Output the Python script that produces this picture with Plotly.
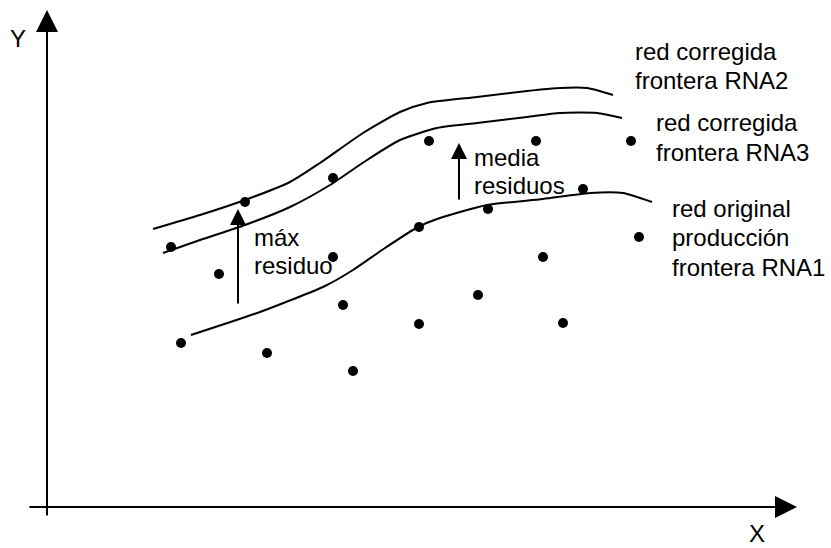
import plotly.graph_objects as go

# ---- data (pixel-like units; y grows downward) ----
pts_x = [171, 245, 333, 333, 219, 181, 267, 343, 353, 419, 429, 536, 631, 583, 488, 419, 639, 543, 478, 563]
pts_y = [247, 202, 178, 257, 274, 343, 353, 305, 371, 324, 141, 141, 141, 189, 209, 227, 237, 257, 295, 323]

rna2_x = [153, 200, 245, 290, 320, 363, 400, 427, 477, 527, 560, 587, 613]
rna2_y = [229, 215, 200, 182, 163, 133, 112, 103, 97, 91, 88, 88, 95]

rna3_x = [163, 200, 245, 290, 330, 367, 400, 437, 477, 527, 560, 597, 622]
rna3_y = [253, 240, 225, 207, 185, 160, 140, 128, 123, 117, 113, 113, 118]

rna1_x = [191, 260, 325, 353, 385, 418, 440, 487, 543, 590, 623, 652]
rna1_y = [335, 312, 286, 270, 248, 227, 218, 205, 199, 193, 193, 202]

# residual arrows: (x, y_tail, y_tip)
max_res = (238, 305, 209)
mean_res = (459, 201, 143)

# axes: origin and ends
x_axis = (28, 797, 507)   # x_start, x_end, y
y_axis = (47, 517, 10)    # x, y_start, y_end

# labels: (text, x_left, y_baseline)
labels = [
    ("red corregida", 633, 59), ("frontera RNA2", 633, 88),
    ("red corregida", 654, 130), ("frontera RNA3", 654, 160),
    ("red original", 670, 216), ("producción", 670, 245), ("frontera RNA1", 670, 275),
    ("media", 472, 165), ("residuos", 472, 193),
    ("máx", 252, 245), ("residuo", 252, 273),
]
axis_labels = [("Y", 18, 38, "middle"), ("X", 757, 548, "bottom")]

FONT = "Liberation Sans, Arial, sans-serif"
FS = 24

fig = go.Figure()
for cx, cy in [(rna2_x, rna2_y), (rna3_x, rna3_y), (rna1_x, rna1_y)]:
    fig.add_trace(go.Scatter(x=cx, y=cy, mode="lines",
                             line=dict(color="black", width=2, shape="spline", smoothing=0.6),
                             hoverinfo="skip", showlegend=False))
fig.add_trace(go.Scatter(x=pts_x, y=pts_y, mode="markers",
                         marker=dict(color="black", size=10),
                         hoverinfo="skip", showlegend=False))

ann = []
# axes arrows
ann.append(dict(x=x_axis[1], y=x_axis[2], ax=x_axis[0], ay=x_axis[2], xref="x", yref="y",
                axref="x", ayref="y", text="", showarrow=True, arrowhead=2, arrowsize=2.2,
                arrowwidth=2, arrowcolor="black", standoff=0))
ann.append(dict(x=y_axis[0], y=y_axis[2], ax=y_axis[0], ay=y_axis[1], xref="x", yref="y",
                axref="x", ayref="y", text="", showarrow=True, arrowhead=2, arrowsize=2.2,
                arrowwidth=2, arrowcolor="black", standoff=0))
for ax_x, yt, yp in [max_res, mean_res]:
    ann.append(dict(x=ax_x, y=yp, ax=ax_x, ay=yt, xref="x", yref="y", axref="x", ayref="y",
                    text="", showarrow=True, arrowhead=2, arrowsize=1.6, arrowwidth=2,
                    arrowcolor="black", standoff=0))
for t, lx, by in labels:
    ann.append(dict(x=lx, y=by - 8, text=t, showarrow=False, xanchor="left", yanchor="middle",
                    xref="x", yref="y", font=dict(family=FONT, size=FS, color="black")))
for t, lx, cy, ya in axis_labels:
    ann.append(dict(x=lx, y=cy, text=t, showarrow=False, xanchor="center", yanchor=ya,
                    borderpad=0, xref="x", yref="y",
                    font=dict(family=FONT, size=FS, color="black")))

fig.update_layout(
    width=831, height=548, margin=dict(l=0, r=0, t=0, b=0),
    paper_bgcolor="white", plot_bgcolor="white",
    xaxis=dict(range=[0, 831], visible=False, fixedrange=True),
    yaxis=dict(range=[548, 0], visible=False, fixedrange=True),
    annotations=ann, showlegend=False,
)
fig.write_html("out.html", config={"displayModeBar": False},
               post_script="document.body.style.margin='0';document.body.style.overflow='hidden';")
